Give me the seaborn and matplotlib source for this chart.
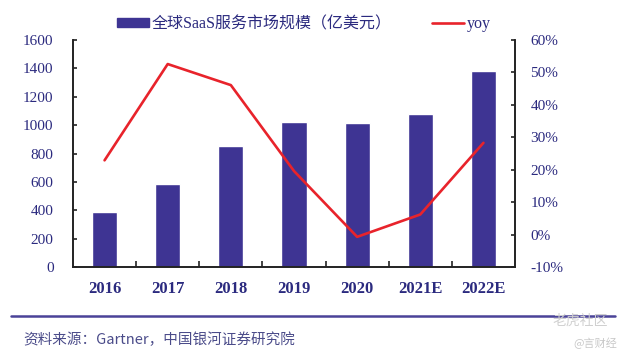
import numpy as np
import pandas as pd
import seaborn as sns
import matplotlib.pyplot as plt
from matplotlib.patches import Patch
from matplotlib.lines import Line2D

years = ['2016', '2017', '2018', '2019', '2020', '2021E', '2022E']
market_size = [385, 588, 856, 1021, 1014, 1080, 1381]
yoy = [22.9, 52.6, 46.1, 19.6, -0.7, 6.2, 28.3]
y_ticks = [0, 200, 400, 600, 800, 1000, 1200, 1400, 1600]
yoy_ticks = [-10, 0, 10, 20, 30, 40, 50, 60]

bar_color = '#3e3493'
line_color = '#e8232b'
text_color = '#2b2a7f'

sns.set_style('white')
plt.rcParams['font.family'] = ['Liberation Serif', 'Noto Sans CJK SC']

df = pd.DataFrame({'year': years, 'size': market_size, 'yoy': yoy})

fig = plt.figure(figsize=(6.27, 3.56), dpi=100)
ax = fig.add_axes([0.1164, 0.25, 0.705, 0.6375])
sns.barplot(data=df, x='year', y='size', color=bar_color, width=0.4,
            saturation=1, ax=ax)
ax.set_ylim(0, 1600)
ax.set_yticks(y_ticks)
ax.set_xlim(-0.5, len(years) - 0.5)
ax.set_xlabel('')
ax.set_ylabel('')

ax2 = ax.twinx()
sns.lineplot(x=np.arange(len(years)), y=df['yoy'], color=line_color,
             linewidth=1.9, ax=ax2)
ax2.set_ylim(-10, 60)
ax2.set_yticks(yoy_ticks)
ax2.set_yticklabels([f'{t}%' for t in yoy_ticks])
ax2.set_ylabel('')

for a in (ax, ax2):
    a.spines['top'].set_visible(False)
    for s in ('left', 'right', 'bottom'):
        a.spines[s].set_color('#222222')
        a.spines[s].set_linewidth(1.2)

ax.tick_params(axis='y', direction='in', length=3, width=1.2, color='#222222',
               labelsize=11, labelcolor=text_color, pad=14, left=True)
ax2.tick_params(axis='y', direction='in', length=3, width=1.2, color='#222222',
                labelsize=11, labelcolor=text_color, pad=11, right=True)
ax.set_xticks(range(len(years)))
ax.set_xticklabels(years, fontsize=12, fontweight='bold', color=text_color)
ax.tick_params(axis='x', which='major', length=0, pad=10)
ax.set_xticks(np.arange(0.5, len(years) - 1), minor=True)
ax.tick_params(axis='x', which='minor', direction='in', length=4, width=1.2,
               color='#222222', bottom=True)

handles = [Patch(facecolor=bar_color, edgecolor=bar_color),
           Line2D([0], [0], color=line_color, linewidth=1.9)]
labels = ['全球SaaS服务市场规模（亿美元）', 'yoy']
fig.legend(handles, labels, loc='center left', bbox_to_anchor=(0.176, 0.932),
           ncol=2, frameon=False, handlelength=2.0, handleheight=0.45,
           handletextpad=0.2, columnspacing=2.5, borderaxespad=0,
           prop={'size': 11.5}, labelcolor=text_color)

fig.add_artist(Line2D([11 / 627, 615 / 627], [1 - 316 / 356, 1 - 316 / 356],
                      color='#4a4398', linewidth=1.8))
fig.text(23 / 627, 1 - 340 / 356, '资料来源：Gartner，中国银河证券研究院',
         fontsize=10.5, color='#4b4c8a', va='center',
         family=['Noto Sans CJK SC', 'DejaVu Sans'])
fig.text(553 / 627, 1 - 321 / 356, '老虎社区', fontsize=10, color='#d0d0d0',
         va='center', family=['Noto Sans CJK SC'])
fig.text(573 / 627, 1 - 343 / 356, '@言财经', fontsize=8, color='#c8c8c8',
         va='center', family=['Noto Sans CJK SC'])

fig.savefig('out.png', dpi=100)
